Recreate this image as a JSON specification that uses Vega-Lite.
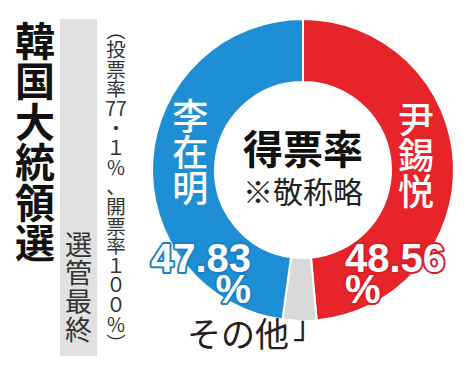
{
  "$schema": "https://vega.github.io/schema/vega-lite/v6.json",
  "padding": {"left": 10, "top": 15, "right": 0, "bottom": 0},
  "background": "white",
  "spacing": 0,
  "bounds": "flush",
  "config": {"view": {"stroke": null}, "font": "Noto Sans CJK JP"},
  "hconcat": [
    {
      "width": 50,
      "height": 337,
      "data": {"values": [{}]},
      "mark": {
        "type": "text",
        "text": ["韓", "国", "大", "統", "領", "選"],
        "fontSize": 40,
        "fontWeight": "bold",
        "lineHeight": 40.5,
        "baseline": "middle",
        "align": "center",
        "dy": -144,
        "fill": "#111111"
      }
    },
    {
      "width": 37,
      "height": 337,
      "view": {"fill": "#e1e1e1", "stroke": null},
      "data": {"values": [{}]},
      "mark": {
        "type": "text",
        "text": ["選", "管", "最", "終"],
        "fontSize": 27,
        "lineHeight": 28.5,
        "baseline": "middle",
        "align": "center",
        "dy": 59,
        "fill": "#333333"
      }
    },
    {
      "width": 38,
      "height": 337,
      "data": {"values": [{}]},
      "mark": {
        "type": "text",
        "text": ["︵", "投", "票", "率", "77", "・", "１", "％", "、", "開", "票", "率", "１", "０", "０", "％", "︶"],
        "fontSize": 19.5,
        "lineHeight": 19.6,
        "baseline": "middle",
        "align": "center",
        "dy": -156,
        "fill": "#333333"
      }
    },
    {
      "width": 336,
      "height": 302,
      "data": {
        "values": [
          {"name": "尹錫悦", "pct": 48.56, "order": 1},
          {"name": "その他", "pct": 3.61, "order": 2},
          {"name": "李在明", "pct": 47.83, "order": 3}
        ]
      },
      "layer": [
        {
          "mark": {"type": "arc", "radius": 151, "innerRadius": 88, "stroke": "white", "strokeWidth": 2},
          "encoding": {
            "theta": {"field": "pct", "type": "quantitative", "stack": true},
            "order": {"field": "order", "type": "quantitative"},
            "color": {
              "field": "name",
              "type": "nominal",
              "scale": {"domain": ["尹錫悦", "その他", "李在明"], "range": ["#e8242b", "#d9d9d9", "#1e8fd5"]},
              "legend": null
            }
          }
        },
        {
          "transform": [{"calculate": "datum.name === 'その他' ? '' : split(datum.name, '')", "as": "vname"}],
          "mark": {"type": "text", "radius": 113, "dy": -43, "fontSize": 36, "fontWeight": 500, "lineHeight": 36, "baseline": "middle", "align": "center", "fill": "white"},
          "encoding": {
            "theta": {"field": "pct", "type": "quantitative", "stack": true},
            "order": {"field": "order", "type": "quantitative"},
            "text": {"field": "vname"}
          }
        },
        {
          "transform": [{"filter": "datum.name === '尹錫悦'"}, {"calculate": "[format(datum.pct, '.2f'), '%']", "as": "lab"}],
          "mark": {"type": "text", "font": "Liberation Sans", "fontSize": 40, "fontWeight": "bold", "lineHeight": 31, "align": "left", "baseline": "middle", "dx": 42, "dy": 90, "fill": "#d81e26", "stroke": "#d81e26", "strokeWidth": 4, "strokeJoin": "round"},
          "encoding": {"text": {"field": "lab"}}
        },
        {
          "transform": [{"filter": "datum.name === '尹錫悦'"}, {"calculate": "[format(datum.pct, '.2f'), '%']", "as": "lab"}],
          "mark": {"type": "text", "font": "Liberation Sans", "fontSize": 40, "fontWeight": "bold", "lineHeight": 31, "align": "left", "baseline": "middle", "dx": 42, "dy": 90, "fill": "white"},
          "encoding": {"text": {"field": "lab"}}
        },
        {
          "transform": [{"filter": "datum.name === '李在明'"}, {"calculate": "[format(datum.pct, '.2f'), '%']", "as": "lab"}],
          "mark": {"type": "text", "font": "Liberation Sans", "fontSize": 40, "fontWeight": "bold", "lineHeight": 31, "align": "right", "baseline": "middle", "dx": -52, "dy": 90, "fill": "#1a82c4", "stroke": "#1a82c4", "strokeWidth": 4, "strokeJoin": "round"},
          "encoding": {"text": {"field": "lab"}}
        },
        {
          "transform": [{"filter": "datum.name === '李在明'"}, {"calculate": "[format(datum.pct, '.2f'), '%']", "as": "lab"}],
          "mark": {"type": "text", "font": "Liberation Sans", "fontSize": 40, "fontWeight": "bold", "lineHeight": 31, "align": "right", "baseline": "middle", "dx": -52, "dy": 90, "fill": "white"},
          "encoding": {"text": {"field": "lab"}}
        },
        {
          "transform": [{"filter": "datum.name === 'その他'"}],
          "mark": {"type": "text", "fontSize": 34, "align": "left", "baseline": "middle", "dx": -116, "dy": 167, "fill": "#222222"},
          "encoding": {"text": {"field": "name"}}
        },
        {
          "data": {"values": [{}]},
          "mark": {"type": "text", "text": "」", "fontSize": 31, "align": "left", "baseline": "middle", "dx": -10, "dy": 159, "fill": "#222222"},
          "encoding": {}
        },
        {
          "data": {"values": [{}]},
          "mark": {"type": "text", "text": "得票率", "fontSize": 40, "fontWeight": "bold", "align": "center", "baseline": "middle", "dy": -18, "fill": "#111111"},
          "encoding": {}
        },
        {
          "data": {"values": [{}]},
          "mark": {"type": "text", "text": "※敬称略", "fontSize": 30, "align": "center", "baseline": "middle", "dy": 24, "fill": "#222222"},
          "encoding": {}
        }
      ]
    }
  ]
}
